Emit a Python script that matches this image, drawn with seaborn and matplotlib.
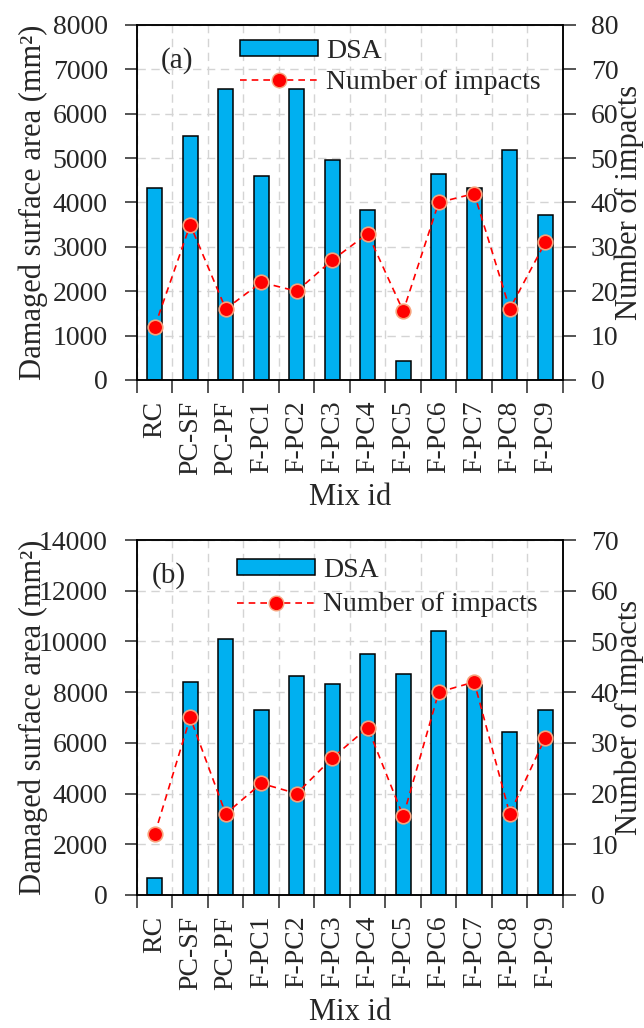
import numpy as np
import seaborn as sns
import matplotlib.pyplot as plt
from matplotlib.patches import Patch
from matplotlib.lines import Line2D

# data
mix_ids = ["RC", "PC-SF", "PC-PF", "F-PC1", "F-PC2", "F-PC3",
           "F-PC4", "F-PC5", "F-PC6", "F-PC7", "F-PC8", "F-PC9"]
dsa_a = [4320, 5500, 6550, 4600, 6550, 4950, 3820, 420, 4650, 4330, 5180, 3720]
dsa_b = [650, 8400, 10080, 7300, 8650, 8320, 9520, 8720, 10400, 8300, 6420, 7300]
impacts = [12, 35, 16, 22, 20, 27, 33, 15.5, 40, 42, 16, 31]

sns.set_style("ticks")
plt.rcParams["font.family"] = ["Liberation Serif", "DejaVu Serif"]

BAR_COLOR = "#00B0F0"
TICK_FS = 20
LABEL_FS = 22


def draw_panel(ax, dsa, ymax, ystep, y2max, tag, tag_x, leg_y, leg_x, leg_space):
    n = len(mix_ids)
    sns.barplot(x=mix_ids, y=dsa, ax=ax, color=BAR_COLOR, width=0.42,
                edgecolor="black", linewidth=1.1, saturation=1)
    ax2 = ax.twinx()
    sns.pointplot(x=mix_ids, y=impacts, ax=ax2, color="red", markers="o",
                  linestyles="--", errorbar=None, markersize=10.5, linewidth=1.2)
    for ln in ax2.lines:
        ln.set_dashes((4, 3))
        ln.set_markeredgecolor("#F7A27C")
        ln.set_markeredgewidth(1.2)
        ln.set_markerfacecolor("red")

    ax.set_xlim(-0.5, n - 0.5)
    ax.set_ylim(0, ymax)
    ax.set_yticks(np.arange(0, ymax + 1, ystep))
    ax2.set_ylim(0, y2max)
    ax2.set_yticks(np.arange(0, y2max + 1, 10))

    # boundaries as major ticks, names on minor ticks
    ax.set_xticks(np.arange(-0.5, n, 1))
    ax.set_xticklabels([])
    ax.set_xticks(np.arange(n), minor=True)
    ax.set_xticklabels(mix_ids, minor=True, rotation=90, fontsize=TICK_FS)
    ax.tick_params(axis="x", which="minor", length=0, pad=15)
    ax.tick_params(axis="x", which="major", direction="out", length=9, width=1.1)
    ax.tick_params(axis="y", direction="out", length=9, width=1.1,
                   labelsize=TICK_FS, pad=12)
    ax2.tick_params(axis="y", direction="out", length=9, width=1.1,
                    labelsize=TICK_FS, pad=11)

    ax.grid(True, which="major", color="#d4d4d4", linestyle=(0, (6, 4)), linewidth=1)
    ax.set_axisbelow(True)

    for sp in list(ax.spines.values()) + list(ax2.spines.values()):
        sp.set_color("black")
        sp.set_linewidth(1.1)

    ax.set_xlabel("Mix id", fontsize=LABEL_FS, labelpad=6)
    ax.set_ylabel("Damaged surface area (mm²)", fontsize=LABEL_FS)
    ax.yaxis.set_label_coords(-0.21, 0.5)
    ax2.set_ylabel("Number of impacts", fontsize=LABEL_FS)
    ax2.yaxis.set_label_coords(1.122, 0.5)

    ax.text(tag_x, 0.90, tag, transform=ax.transAxes, fontsize=TICK_FS + 1,
            ha="left", va="center")

    handles = [
        Patch(facecolor=BAR_COLOR, edgecolor="black", linewidth=1.1),
        Line2D([], [], color="red", linestyle=(0, (4, 3)), linewidth=1.2,
               marker="o", markersize=10.5, markerfacecolor="red",
               markeredgecolor="#F7A27C"),
    ]
    ax2.legend(handles, ["DSA", "Number of impacts"], loc="upper left",
               bbox_to_anchor=(leg_x, leg_y), frameon=False, fontsize=TICK_FS,
               borderpad=0, borderaxespad=0, handlelength=2.8, handleheight=0.5,
               handletextpad=0.3, labelspacing=leg_space)
    return ax2


fig = plt.figure(figsize=(6.44, 10.28), dpi=100)
ax_a = fig.add_axes([0.2127, 0.6304, 0.6615, 0.3453])
ax_b = fig.add_axes([0.2127, 0.1294, 0.6615, 0.3453])

draw_panel(ax_a, dsa_a, 8000, 1000, 80, "(a)", 0.056, 0.96, 0.242, 0.2)
draw_panel(ax_b, dsa_b, 14000, 2000, 70, "(b)", 0.035, 0.95, 0.235, 0.35)

fig.savefig("out.png", dpi=100)
